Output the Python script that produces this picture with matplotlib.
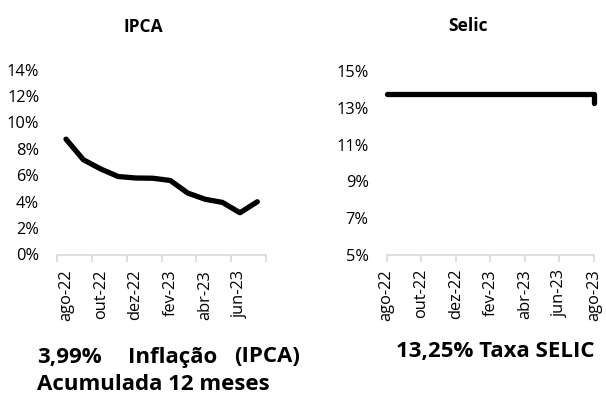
import matplotlib
matplotlib.use("Agg")
import matplotlib.pyplot as plt
import numpy as np

plt.rcParams['font.family'] = ['Open Sans', 'DejaVu Sans']

# ---- data ----
ipca_months = ['ago-22', 'set-22', 'out-22', 'nov-22', 'dez-22', 'jan-23',
               'fev-23', 'mar-23', 'abr-23', 'mai-23', 'jun-23', 'jul-23']
ipca_values = [8.73, 7.17, 6.47, 5.90, 5.79, 5.77, 5.60, 4.65, 4.18, 3.94, 3.16, 3.99]

selic_dates = ['2022-08', '2022-09', '2022-10', '2022-11', '2022-12', '2023-01',
               '2023-02', '2023-03', '2023-04', '2023-05', '2023-06', '2023-07',
               '2023-08', '2023-08']
selic_values = [13.75, 13.75, 13.75, 13.75, 13.75, 13.75, 13.75,
                13.75, 13.75, 13.75, 13.75, 13.75, 13.75, 13.25]
selic_tick_labels = ['ago-22', 'out-22', 'dez-22', 'fev-23', 'abr-23', 'jun-23', 'ago-23']

ipca_yticks = [0, 2, 4, 6, 8, 10, 12, 14]
selic_yticks = [5, 7, 9, 11, 13, 15]

W, H = 606, 400
fig = plt.figure(figsize=(W / 100, H / 100), dpi=100)

axis_color = '#d9d9d9'
tick_fs = 11.8


def fx(px):
    return px / W


def fy(py):
    return 1 - py / H


def style(ax):
    for s in ['top', 'right', 'left']:
        ax.spines[s].set_visible(False)
    ax.spines['bottom'].set_color(axis_color)
    ax.spines['bottom'].set_linewidth(1.2)
    ax.tick_params(axis='y', length=0, pad=13, labelsize=tick_fs)
    ax.set_facecolor('none')


# ---- IPCA ----
ax1 = fig.add_axes([fx(57.3), fy(254.5), fx(266) - fx(57.3), fy(69.5) - fy(254.5)])
x1 = np.arange(len(ipca_values))
ax1.plot(x1, ipca_values, color='black', linewidth=3.8,
         solid_capstyle='round', solid_joinstyle='round')
ax1.set_xlim(-0.5, len(ipca_values) - 0.5)
ax1.set_ylim(0, 14)
ax1.set_yticks(ipca_yticks)
ax1.set_yticklabels([f'{v}%' for v in ipca_yticks])
style(ax1)
ax1.set_xticks(x1[::2])
ax1.set_xticklabels(ipca_months[::2], rotation=90)
ax1.tick_params(axis='x', which='major', length=0, pad=11, labelsize=tick_fs)
ax1.set_xticks(np.arange(-0.5, len(ipca_values), 2), minor=True)
ax1.tick_params(axis='x', which='minor', length=5, width=1.2, color=axis_color)

# ---- Selic ----
def month_index(s):
    y, m = s.split('-')
    return (int(y) - 2022) * 12 + int(m) - 8

ax2 = fig.add_axes([fx(386.7), fy(255), fx(594) - fx(386.7), fy(71) - fy(255)])
x2 = [month_index(d) for d in selic_dates]
ax2.plot(x2, selic_values, color='black', linewidth=3.8,
         solid_capstyle='round', solid_joinstyle='round')
ax2.set_xlim(0, 12)
ax2.set_ylim(5, 15)
ax2.set_yticks(selic_yticks)
ax2.set_yticklabels([f'{v}%' for v in selic_yticks])
style(ax2)
ax2.set_xticks(np.arange(0, 13, 2))
ax2.set_xticklabels(selic_tick_labels, rotation=90)
ax2.tick_params(axis='x', which='major', length=5, width=1.2, color=axis_color,
                pad=5, labelsize=tick_fs)
for ax in (ax1, ax2):
    for lab in ax.get_xticklabels():
        lab.set_verticalalignment('top')
    for ln in ax.get_lines():
        ln.set_clip_on(False)

# ---- titles ----
fig.text(fx(143), fy(27), 'IPCA', ha='center', va='center', fontsize=12.5, fontweight='bold')
fig.text(fx(468), fy(26), 'Selic', ha='center', va='center', fontsize=12.5, fontweight='bold')

# ---- bottom captions ----
cap_fs = 16
fig.text(fx(37), fy(357), '3,99%', ha='left', va='center', fontsize=cap_fs, fontweight='bold')
fig.text(fx(128), fy(357), 'Inflação', ha='left', va='center', fontsize=cap_fs, fontweight='bold')
fig.text(fx(300), fy(357), '(IPCA)', ha='right', va='center', fontsize=cap_fs, fontweight='bold')
fig.text(fx(37), fy(385), 'Acumulada 12 meses', ha='left', va='center', fontsize=cap_fs, fontweight='bold')
fig.text(fx(495), fy(352), '13,25% Taxa SELIC', ha='center', va='center', fontsize=cap_fs, fontweight='bold')

fig.savefig('out.png', dpi=100)
